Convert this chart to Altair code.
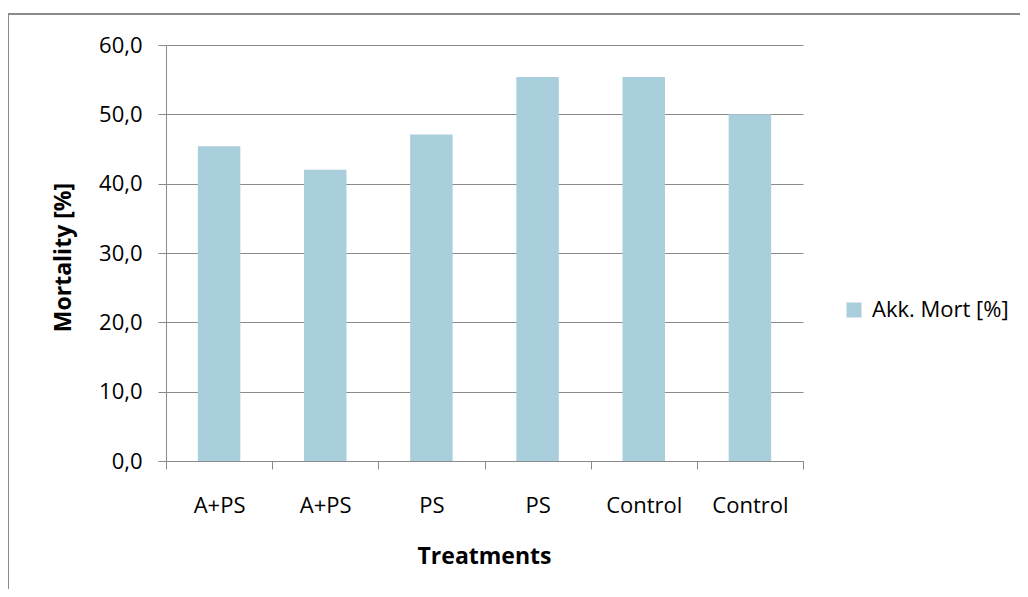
import json
import altair as alt
import pandas as pd

# ---- data ----
categories = ["A+PS", "A+PS", "PS", "PS", "Control", "Control"]
mortality = [45.4, 42.0, 47.1, 55.4, 55.4, 50.0]
series_name = "Akk. Mort [%]"
y_ticks = [0, 10, 20, 30, 40, 50, 60]

df = pd.DataFrame({
    "idx": list(range(len(categories))),
    "value": mortality,
    "series": [series_name] * len(categories),
})

FONT = "Open Sans"
GRID = "#8a8a8a"
BAR = "#a9cedc"

label_expr = json.dumps(categories) + "[datum.value]"

bars = alt.Chart(df).mark_bar(width=alt.RelativeBandSize(0.4), color=BAR).encode(
    x=alt.X(
        "idx:O",
        scale=alt.Scale(paddingInner=0, paddingOuter=0),
        axis=alt.Axis(
            title="Treatments",
            labelExpr=label_expr,
            labelAngle=0,
            labelFont=FONT,
            labelFontSize=22,
            labelColor="#000000",
            labelBaseline="alphabetic",
            labelPadding=43,
            tickBand="extent",
            tickSize=8,
            tickColor=GRID,
            domainColor=GRID,
            titleFont=FONT,
            titleFontSize=23,
            titleFontWeight="bold",
            titleColor="#000000",
            titleBaseline="alphabetic",
            titleX=318,
            titleY=102,
            grid=False,
        ),
    ),
    y=alt.Y(
        "value:Q",
        scale=alt.Scale(domain=[0, 60], nice=False),
        axis=alt.Axis(
            title="Mortality [%]",
            values=y_ticks,
            labelExpr="replace(format(datum.value, '.1f'), '.', ',')",
            labelFont=FONT,
            labelFontSize=22,
            labelColor="#000000",
            labelPadding=16,
            tickSize=8,
            tickColor=GRID,
            domainColor=GRID,
            gridColor=GRID,
            grid=True,
            titleFont=FONT,
            titleFontSize=23,
            titleFontWeight="bold",
            titleColor="#000000",
            titleAngle=270,
            titleAlign="center",
            titleBaseline="middle",
            titleX=-103,
            titleY=212,
        ),
    ),
    color=alt.Color(
        "series:N",
        scale=alt.Scale(range=[BAR]),
        legend=alt.Legend(
            title=None,
            orient="none",
            legendX=677,
            legendY=254,
            symbolType="square",
            symbolSize=225,
            symbolStrokeWidth=0,
            labelFont=FONT,
            labelFontSize=22,
            labelColor="#000000",
            labelOffset=7,
            padding=0,
        ),
    ),
)

frame = pd.DataFrame({"k": [0]})
left_edge = alt.Chart(frame).mark_rule(color=GRID, strokeWidth=2).encode(
    x=alt.value(-158), y=alt.value(-32), y2=alt.value(600)
)
top_edge = alt.Chart(frame).mark_rule(color=GRID, strokeWidth=2).encode(
    x=alt.value(-159), x2=alt.value(900), y=alt.value(-31)
)

chart = alt.layer(bars, left_edge, top_edge).properties(
    width=637,
    height=416,
    autosize=alt.AutoSizeParams(type="none"),
    padding={"left": 158, "top": 37, "right": 217, "bottom": 128},
).configure_view(stroke=None)

chart.save("out.html", embed_options={"renderer": "svg", "actions": False})
